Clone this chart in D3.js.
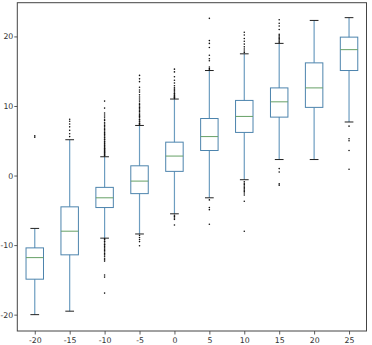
<!DOCTYPE html>
<html>
<head>
<meta charset="utf-8">
<script src="https://cdn.jsdelivr.net/npm/d3@7"></script>
<style>
  html, body { margin: 0; padding: 0; background: #fff; }
  svg { display: block; }
  .tick text { font-family: "DejaVu Sans", sans-serif; font-size: 7.8px; fill: #333; }
</style>
</head>
<body>
<svg id="chart" width="372" height="345"></svg>
<script>
// Group labels along the x axis
const categories = [-20, -15, -10, -5, 0, 5, 10, 15, 20, 25];

// Five-number summaries per group
const whiskerLow  = [-20.0, -19.5, -9.0, -8.4, -5.5, -3.2, -0.6,  2.3,  2.3,  7.7];
const q1          = [-14.9, -11.4, -4.6, -2.6,  0.6,  3.6,  6.2,  8.4,  9.8, 15.1];
const medians     = [-11.8,  -8.0, -3.2, -0.8,  2.8,  5.6,  8.5, 10.6, 12.6, 18.1];
const q3          = [-10.4,  -4.5, -1.7,  1.4,  4.8,  8.2, 10.8, 12.6, 16.2, 19.9];
const whiskerHigh = [ -7.6,  5.15,  2.7,  7.2, 11.0, 15.1, 17.5, 19.0, 22.3, 22.7];

// Outliers beyond the whiskers, one list per group
const fliers = [
  [5.5, 5.7],
  [5.6, 6.0, 6.5, 7.0, 7.4, 7.8, 8.1],
  [2.8, 2.9, 3.0, 3.1, 3.2, 3.3, 3.4, 3.5, 3.6, 3.7, 3.8, 3.9, 4.0, 4.2, 4.3, 4.5, 4.6, 4.8,
   4.9, 5.1, 5.2, 5.4, 5.5, 5.7, 5.9, 6.0, 6.2, 6.4, 6.6, 6.8, 7.0, 7.2, 7.4, 7.6, 7.9, 8.1,
   8.4, 8.7, 9.0, 9.7, 10.7,
   -9.1, -9.2, -9.4, -9.5, -9.7, -9.9, -10.0, -10.2, -10.4, -10.6, -10.8, -11.0, -11.2,
   -11.4, -11.6, -11.9, -12.1, -12.3, -14.3, -14.6, -16.9],
  [7.3, 7.4, 7.5, 7.7, 7.8, 8.0, 8.1, 8.3, 8.5, 8.6, 8.8, 9.0, 9.2, 9.4, 9.6, 9.8, 10.0,
   10.2, 10.4, 10.7, 11.0, 11.3, 11.6, 12.0, 12.3, 12.7, 13.5, 13.9, 14.4,
   -8.6, -8.9, -9.2, -9.5, -10.1],
  [11.1, 11.2, 11.3, 11.4, 11.5, 11.7, 11.8, 12.0, 12.2, 12.4, 12.6, 12.9, 13.3, 13.7,
   14.2, 14.9, 15.3,
   -5.7, -5.9, -6.1, -6.3, -7.1],
  [15.2, 15.4, 15.6, 16.5, 16.8, 17.3, 18.4, 19.0, 19.4, 22.6,
   -3.5, -4.6, -4.9, -7.0],
  [17.7, 17.9, 18.2, 18.5, 18.9, 19.3, 19.7, 20.2, 20.6,
   -0.9, -1.1, -1.3, -1.5, -1.7, -1.9, -2.1, -2.3, -2.5, -2.8, -3.7, -8.0],
  [19.1, 19.3, 19.5, 19.7, 19.9, 20.1, 20.3, 21.0, 21.5, 21.9, 22.4,
   1.0, 0.5, -1.2, -1.4],
  [],
  [7.1, 5.3, 5.0, 3.6, 0.9]
];

const yTicks = [-20, -10, 0, 10, 20];

const svg = d3.select("#chart");
const plot = { left: 17.3, right: 366.5, top: 2.7, bottom: 331 };

// Boxes sit at positions 1..n, axis spans half a slot either side
const x = d3.scaleLinear()
  .domain([0.5, categories.length + 0.5])
  .range([plot.left, plot.right]);

const y = d3.scaleLinear()
  .domain([-22.35, 24.85])
  .range([plot.bottom, plot.top]);

const slot = x(2) - x(1);
const boxW = slot * 0.5;
const capW = boxW * 0.5;

const colors = {
  box: "#4d84ad",
  whisker: "#6d9dc0",
  median: "#66a066",
  cap: "#222",
  flier: "#111"
};

const groups = svg.append("g")
  .selectAll("g.box")
  .data(categories.map((c, i) => ({
    c, i,
    lo: whiskerLow[i], q1: q1[i], med: medians[i], q3: q3[i], hi: whiskerHigh[i],
    out: fliers[i]
  })))
  .join("g")
  .attr("class", "box");

// Whiskers: from box edges out to the caps
groups.append("line")
  .attr("x1", d => x(d.i + 1)).attr("x2", d => x(d.i + 1))
  .attr("y1", d => y(d.q1)).attr("y2", d => y(d.lo))
  .attr("stroke", colors.whisker).attr("stroke-width", 1.2);
groups.append("line")
  .attr("x1", d => x(d.i + 1)).attr("x2", d => x(d.i + 1))
  .attr("y1", d => y(d.q3)).attr("y2", d => y(d.hi))
  .attr("stroke", colors.whisker).attr("stroke-width", 1.2);

// Caps
groups.selectAll("line.cap")
  .data(d => [d.lo, d.hi].map(v => ({ i: d.i, v })))
  .join("line")
  .attr("class", "cap")
  .attr("x1", d => x(d.i + 1) - capW / 2).attr("x2", d => x(d.i + 1) + capW / 2)
  .attr("y1", d => y(d.v)).attr("y2", d => y(d.v))
  .attr("stroke", colors.cap).attr("stroke-width", 1);

// Interquartile box
groups.append("rect")
  .attr("x", d => x(d.i + 1) - boxW / 2)
  .attr("width", boxW)
  .attr("y", d => y(d.q3))
  .attr("height", d => y(d.q1) - y(d.q3))
  .attr("fill", "none")
  .attr("stroke", colors.box).attr("stroke-width", 1);

// Median
groups.append("line")
  .attr("x1", d => x(d.i + 1) - boxW / 2).attr("x2", d => x(d.i + 1) + boxW / 2)
  .attr("y1", d => y(d.med)).attr("y2", d => y(d.med))
  .attr("stroke", colors.median).attr("stroke-width", 1);

// Outlier points
groups.selectAll("circle")
  .data(d => d.out.map(v => ({ i: d.i, v })))
  .join("circle")
  .attr("cx", d => x(d.i + 1))
  .attr("cy", d => y(d.v))
  .attr("r", 0.8)
  .attr("fill", colors.flier);

// Axes (plain hyphen-minus keeps the negative labels narrow)
const xAxis = d3.axisBottom(x)
  .tickValues(categories.map((c, i) => i + 1))
  .tickFormat((d, i) => String(categories[i]))
  .tickSize(3.5)
  .tickPadding(2.5);

const yAxis = d3.axisLeft(y)
  .tickValues(yTicks)
  .tickFormat(d => String(d))
  .tickSize(3)
  .tickPadding(1);

const gx = svg.append("g")
  .attr("transform", `translate(0,${plot.bottom})`)
  .call(xAxis);
const gy = svg.append("g")
  .attr("transform", `translate(${plot.left},0)`)
  .call(yAxis);

[gx, gy].forEach(g => {
  g.select(".domain").remove();
  g.selectAll(".tick line").attr("stroke", "#333").attr("stroke-width", 0.8);
});

// Frame around the plotting area
svg.append("rect")
  .attr("x", plot.left).attr("y", plot.top)
  .attr("width", plot.right - plot.left)
  .attr("height", plot.bottom - plot.top)
  .attr("fill", "none")
  .attr("stroke", "#444").attr("stroke-width", 1);
</script>
</body>
</html>
